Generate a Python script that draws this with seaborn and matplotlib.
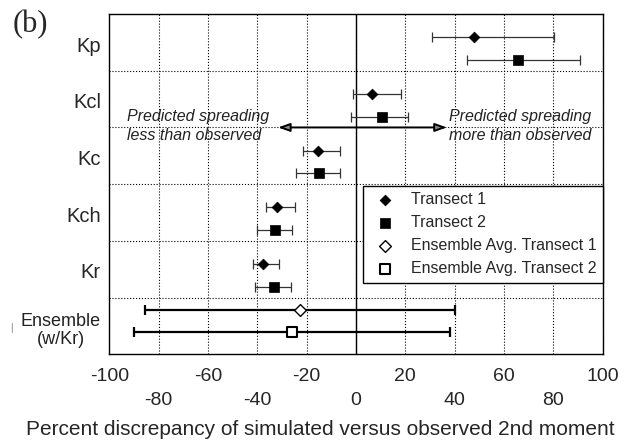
import numpy as np
import pandas as pd
import matplotlib
matplotlib.use('Agg')
import matplotlib.pyplot as plt
import seaborn as sns

sns.set_style('white')
plt.rcParams['font.family'] = ['Liberation Sans', 'DejaVu Sans']

# values (percent discrepancy)
rows = ['Kp', 'Kcl', 'Kc', 'Kch', 'Kr']
t1_val = [47.7, 6.5, -15.4, -31.9, -37.6]
t1_lo = [30.7, -1.4, -21.6, -36.6, -41.7]
t1_hi = [80.4, 18.2, -6.5, -24.7, -31.1]
t2_val = [65.7, 10.5, -14.9, -32.8, -33.1]
t2_lo = [45.1, -2.2, -24.4, -40.3, -40.9]
t2_hi = [90.8, 21.2, -6.5, -25.8, -26.5]

ens_label = 'Ensemble\n(w/Kr)'
ens_val = [-22.7, -25.9]
ens_lo = [-85.5, -90.0]
ens_hi = [40.1, 38.1]

series_names = ['Transect 1', 'Transect 2',
                'Ensemble Avg. Transect 1', 'Ensemble Avg. Transect 2']

xticks = list(range(-100, 101, 20))

# build a long table
nr = len(rows)
recs = []
for i, r in enumerate(rows):
    recs.append(dict(series=series_names[0], value=t1_val[i], lo=t1_lo[i], hi=t1_hi[i], y=i + 0.41))
    recs.append(dict(series=series_names[1], value=t2_val[i], lo=t2_lo[i], hi=t2_hi[i], y=i + 0.81))
recs.append(dict(series=series_names[2], value=ens_val[0], lo=ens_lo[0], hi=ens_hi[0], y=nr + 0.21))
recs.append(dict(series=series_names[3], value=ens_val[1], lo=ens_lo[1], hi=ens_hi[1], y=nr + 0.61))
df = pd.DataFrame(recs)

fig = plt.figure(figsize=(6.29, 4.45), dpi=100)
ax = fig.add_axes([0.1738, 0.2038, 0.7844, 0.7647])

styles = {
    series_names[0]: dict(marker='D', s=30, color='black', edgecolor='black', linewidth=0.5, elw=0.9, ecol='#333333'),
    series_names[1]: dict(marker='s', s=44, color='black', edgecolor='black', linewidth=0.5, elw=0.9, ecol='#333333'),
    series_names[2]: dict(marker='D', s=36, color='white', edgecolor='black', linewidth=1.0, elw=1.6, ecol='black'),
    series_names[3]: dict(marker='s', s=55, color='white', edgecolor='black', linewidth=1.5, elw=1.6, ecol='black'),
}

for name in series_names:
    sub = df[df['series'] == name]
    st = styles[name]
    ax.errorbar(sub['value'], sub['y'],
                xerr=[sub['value'] - sub['lo'], sub['hi'] - sub['value']],
                fmt='none', ecolor=st['ecol'], elinewidth=st['elw'],
                capsize=3.8, capthick=st['elw'], zorder=3)
    sns.scatterplot(data=sub, x='value', y='y', marker=st['marker'], s=st['s'],
                    color=st['color'], edgecolor=st['edgecolor'],
                    linewidth=st['linewidth'], label=name, ax=ax, zorder=4)

ax.set_xlim(-100, 100)
ax.set_ylim(nr + 1, 0)
ax.set_xticks(xticks)
ax.set_xticklabels([str(v) if (v // 20) % 2 == 1 else '\n' + str(v) for v in xticks],
                   fontsize=14, linespacing=1.5)
ax.set_yticks(np.arange(nr + 1) + 0.53)
ax.set_yticklabels(rows + [ens_label], fontsize=14.5)
ens_tick = ax.get_yticklabels()[-1]
ens_tick.set_fontsize(13)
ens_tick.set_linespacing(1.1)
ens_tick.set_multialignment('center')
ens_tick.set_color('#222222')
ax.set_yticks(np.arange(1, nr + 1), minor=True)
ax.tick_params(axis='both', which='both', length=0)
ax.tick_params(axis='y', pad=6)
ax.tick_params(axis='x', pad=10)
ax.grid(axis='x', which='major', ls=':', color='black', lw=0.8)
ax.grid(axis='y', which='minor', ls=':', color='black', lw=0.8)
ax.grid(axis='y', which='major', visible=False)
ax.set_axisbelow(True)
ax.axvline(0, color='black', lw=1.0, zorder=2)
for sp in ax.spines.values():
    sp.set_color('black')
    sp.set_linewidth(1.0)

ax.set_xlabel('Percent discrepancy of simulated versus observed 2nd moment',
              fontsize=15, labelpad=9)
ax.xaxis.set_label_coords(0.427, -0.222)
ax.xaxis.label.set_verticalalignment('center')
ax.set_ylabel('')

# arrows and annotations
ax.annotate('', xy=(-31.6, 2), xytext=(36.8, 2),
            arrowprops=dict(arrowstyle='<|-|>,head_length=0.7,head_width=0.25',
                            fc='#888888', ec='black', lw=1.4, shrinkA=0, shrinkB=0),
            zorder=3)
ax.text(-92.9, 1.97, 'Predicted spreading\nless than observed', style='italic',
        fontsize=11.5, ha='left', va='center', color='#222222', linespacing=1.3)
ax.text(37.5, 1.97, 'Predicted spreading\nmore than observed', style='italic',
        fontsize=11.5, ha='left', va='center', color='#222222', linespacing=1.3)

leg = ax.legend(loc='upper right', bbox_to_anchor=(1.0, 0.495), borderaxespad=0,
                frameon=True, fancybox=False, edgecolor='black', framealpha=1,
                fontsize=11.5, labelspacing=0.5, handletextpad=0.6, borderpad=0.4)
leg.get_frame().set_linewidth(1.0)

fig.text(13 / 629, 1 - 25 / 445, '(b)', family='Liberation Serif', fontsize=22,
         ha='left', va='center')
fig.text(10 / 629, 1 - 328 / 445, '|', fontsize=7, color='#777777',
         ha='left', va='center')

fig.savefig('out.png', dpi=100)
